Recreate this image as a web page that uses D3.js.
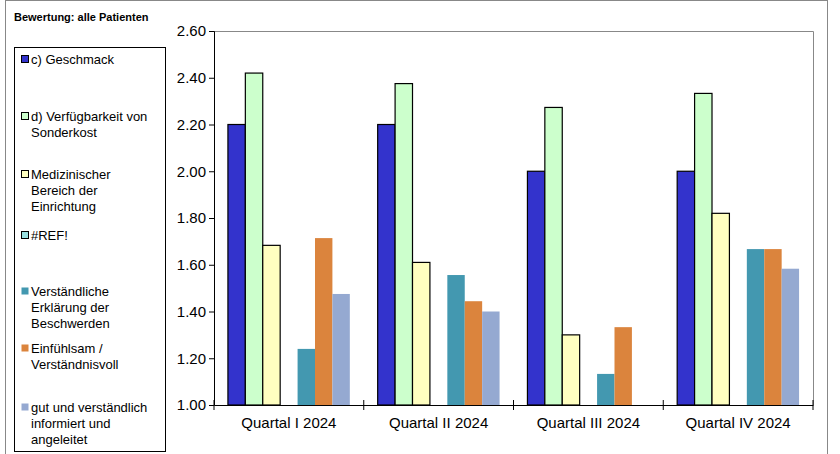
<!DOCTYPE html>
<html><head><meta charset="utf-8">
<script src="https://cdn.jsdelivr.net/npm/d3@7"></script>
<style>body{margin:0;background:#fff}svg{font-family:Arial,"Liberation Sans",sans-serif}</style>
</head><body><svg id="c" width="840" height="454"></svg>
<script>
// chart data
var quarters = ["Quartal I 2024", "Quartal II 2024", "Quartal III 2024", "Quartal IV 2024"];
var seriesNames = [["c) Geschmack"], ["d) Verfügbarkeit von", "Sonderkost"], ["Medizinischer", "Bereich der", "Einrichtung"], ["#REF!"], ["Verständliche", "Erklärung der", "Beschwerden"], ["Einfühlsam /", "Verständnisvoll"], ["gut und verständlich", "informiert und", "angeleitet"]];
var seriesColors = ["#3333cc", "#ccffcc", "#ffffc0", "#99e0e0", "#4398b0", "#db843d", "#95a9d1"];
var outlined = [true, true, true, true, false, false, false];
var geschmack = [2.20, 2.20, 2.00, 2.00];
var sonderkost = [2.42, 2.375, 2.273, 2.333];
var medizin = [1.683, 1.61, 1.30, 1.82];
var refErr = [null, null, null, null];
var erklaerung = [1.24, 1.556, 1.133, 1.667];
var einfuehlsam = [1.714, 1.444, 1.333, 1.667];
var informiert = [1.475, 1.40, null, 1.583];
var yTicks = [1.0, 1.2, 1.4, 1.6, 1.8, 2.0, 2.2, 2.4, 2.6];
var legendY = [64, 121, 179, 240, 296, 353, 412];

var allSeries = [geschmack, sonderkost, medizin, refErr, erklaerung, einfuehlsam, informiert];
var svg = d3.select("#c");

svg.append("rect").attr("x", 5.5).attr("y", 0.5).attr("width", 822).attr("height", 460)
  .attr("fill", "none").attr("stroke", "#888");

svg.append("text").attr("x", 14).attr("y", 21).attr("font-size", 11).attr("font-weight", "bold").text("Bewertung: alle Patienten");

var pLeft = 214, pRight = 813, pTop = 31, pBottom = 405;
var x = d3.scaleBand().domain(quarters).range([pLeft, pRight]);
var xi = d3.scaleBand().domain(d3.range(7)).range([0, x.bandwidth()]).paddingOuter(0.8);
var y = d3.scaleLinear().domain([1, 2.6]).range([pBottom, pTop]);

svg.append("path").attr("d", "M" + pLeft + "," + (pTop + .5) + "H" + (pRight + .5) + "V" + pBottom)
  .attr("fill", "none").attr("stroke", "#888").attr("stroke-width", 1);

quarters.forEach(function (q, qi) {
  allSeries.forEach(function (s, si) {
    var v = s[qi];
    if (v == null) return;
    svg.append("rect").attr("x", x(q) + xi(si)).attr("y", y(v))
      .attr("width", xi.bandwidth()).attr("height", y(1) - y(v))
      .attr("fill", seriesColors[si])
      .attr("stroke", outlined[si] ? "#000" : "none").attr("stroke-width", 1.2);
  });
});

var ya = svg.append("g").attr("transform", "translate(" + pLeft + ",0)")
  .call(d3.axisLeft(y).tickValues(yTicks).tickSize(5).tickFormat(d3.format(".2f")));
ya.select(".domain").attr("stroke", "#000");
ya.selectAll("text").attr("font-size", 15).attr("fill", "#000").attr("font-family", "Arial,Liberation Sans,sans-serif");

var xa = svg.append("g").attr("transform", "translate(0," + pBottom + ")")
  .call(d3.axisBottom(x).tickSize(0).tickPadding(12));
xa.select(".domain").attr("stroke", "#000");
xa.selectAll("text").attr("font-size", 15).attr("fill", "#000").attr("font-family", "Arial,Liberation Sans,sans-serif");
xa.selectAll(".sep").data(d3.range(quarters.length + 1)).enter().append("line")
  .attr("x1", function (d) { return pLeft + d * x.step(); }).attr("x2", function (d) { return pLeft + d * x.step(); })
  .attr("y1", -5).attr("y2", 5).attr("stroke", "#000");

// legend
var lg = svg.append("g");
lg.append("rect").attr("x", 14.5).attr("y", 47.5).attr("width", 151).attr("height", 404)
  .attr("fill", "#fff").attr("stroke", "#000");
seriesNames.forEach(function (lines, i) {
  lg.append("rect").attr("x", 21.5).attr("y", legendY[i] - 8.5).attr("width", 7).attr("height", 7)
    .attr("fill", seriesColors[i]).attr("stroke", outlined[i] ? "#000" : "none");
  var t = lg.append("text").attr("x", 31).attr("y", legendY[i]).attr("font-size", 13);
  lines.forEach(function (l, j) {
    t.append("tspan").attr("x", 31).attr("dy", j ? 16 : 0).text(l);
  });
});
</script></body></html>
